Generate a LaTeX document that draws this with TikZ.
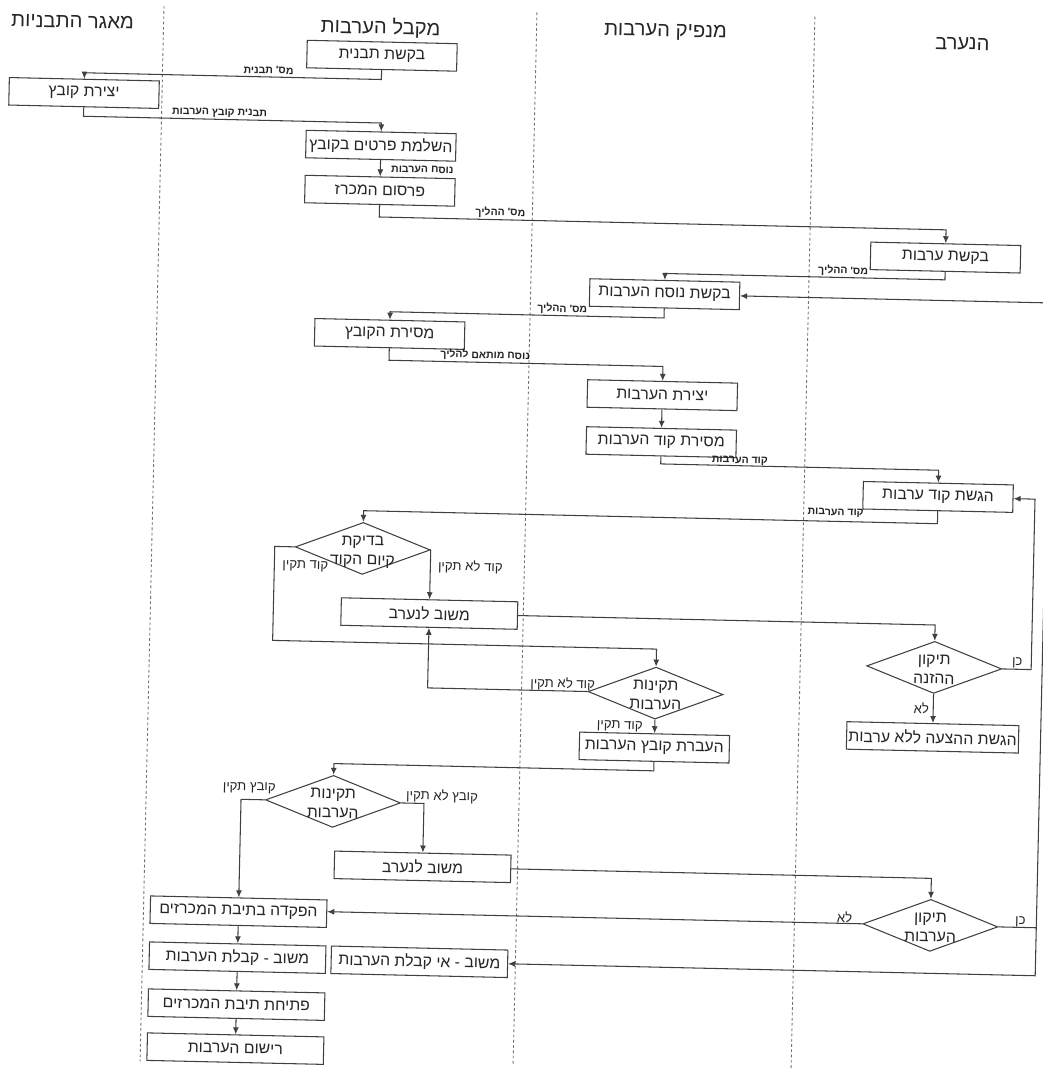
\documentclass[tikz,border=0pt]{standalone}
\usepackage{fontspec}
\newfontfamily\hebfont[Script=Hebrew]{Liberation Sans}
\usetikzlibrary{shapes.geometric,arrows.meta}
\TeXXeTstate=1
\newcommand\rtl[1]{{\beginR #1\endR}}
\newcommand\dtxt[2]{\makebox[0pt]{\raisebox{-.5\height}[0pt][0pt]{\begin{tabular}[b]{@{}c@{}}#1\\#2\end{tabular}}}}
\begin{document}
\begin{tikzpicture}[x=0.02cm,y=-0.02cm,
  box/.style={draw=black!75, line width=0.6pt, minimum width=3cm, minimum height=0.55cm,
              inner sep=1pt, text=black!85, font=\hebfont\fontsize{9}{11}\selectfont},
  wbox/.style={box, minimum width=3.53cm},
  dec/.style={diamond, draw=black!75, line width=0.6pt, minimum width=2.7cm, minimum height=1.04cm,
              inner sep=0pt, text=black!85, font=\hebfont\fontsize{9}{11}\selectfont},
  hdr/.style={text=black!85, font=\hebfont\fontsize{11.5}{13}\selectfont},
  lbl/.style={inner sep=0pt, text=black!85, font=\hebfont\bfseries\fontsize{6}{7}\selectfont},
  cond/.style={inner sep=0pt, text=black!85, font=\hebfont\fontsize{7.5}{9}\selectfont},
  flow/.style={draw=black!75, line width=0.6pt, -{Latex[length=4pt,width=3.4pt]}},
  wire/.style={draw=black!75, line width=0.6pt},
  lane/.style={black!55, line width=0.5pt, dash pattern=on 1.6pt off 1.4pt}]

\fill[white] (0,0) rectangle (1042,1078);
\useasboundingbox (0,0) rectangle (1042,1078);

\begin{scope}[rotate around={-1.3:(521,539)}, transform shape]

\node[hdr] (hdrA) at (61,32) {\rtl{מאגר התבניות}};
\node[hdr] (hdrB) at (369,31) {\rtl{מקבל הערבות}};
\node[hdr] (hdrC) at (654,29) {\rtl{מנפיק הערבות}};
\node[hdr] (hdrD) at (951,34) {\rtl{הנערב}};

\draw[lane] (152,14) -- (152,1070);
\draw[lane] (525,12) -- (525,1066);
\draw[lane] (803,10) -- (803,1062);

\node[box] (tavnit) at (371,59) {\rtl{בקשת תבנית}};
\node[box] (kovetz) at (74,103) {\rtl{יצירת קובץ}};
\node[box] (hashlama) at (372,149) {\rtl{השלמת פרטים בקובץ}};
\node[box] (pirsum) at (372,194) {\rtl{פרסום המכרז}};
\node[box] (bakasha) at (939,248) {\rtl{בקשת ערבות}};
\node[box] (nusach) at (659,291) {\rtl{בקשת נוסח הערבות}};
\node[box] (mesira) at (385,337) {\rtl{מסירת הקובץ}};
\node[box] (yetzira) at (659,392) {\rtl{יצירת הערבות}};
\node[box] (kod) at (659,439) {\rtl{מסירת קוד הערבות}};
\node[box] (hagasha) at (937,487.5) {\rtl{הגשת קוד ערבות}};

\node[dec] (bdika) at (363,552) {\dtxt{\beginR בדיקת\endR}{\beginR קיום הקוד\endR}};
\node[wbox] (mashovA) at (431,615.6) {\rtl{משוב לנערב}};
\node[dec] (tikunA) at (937,658) {\dtxt{\beginR תיקון\endR}{\beginR ההזנה\endR}};
\node[dec] (takinutA) at (659,690) {\dtxt{\beginR תקינות\endR}{\beginR הערבות\endR}};
\node[box, minimum width=3.44cm] (lelo) at (937,728) {\rtl{הגשת ההצעה ללא ערבות}};
\node[box] (haavara) at (659,744.5) {\rtl{העברת קובץ הערבות}};

\node[dec] (takinutB) at (339,805.6) {\dtxt{\beginR תקינות\endR}{\beginR הערבות\endR}};
\node[wbox] (mashovB) at (430,869) {\rtl{משוב לנערב}};
\node[dec] (tikunB) at (939,916) {\dtxt{\beginR תיקון\endR}{\beginR הערבות\endR}};
\node[wbox] (hafkada) at (247,918) {\rtl{הפקדה בתיבת המכרזים}};
\node[wbox] (kabala) at (247,964) {\rtl{משוב - קבלת הערבות}};
\node[wbox] (ikabala) at (429,964) {\rtl{משוב - אי קבלת הערבות}};
\node[wbox] (ptiha) at (247,1011) {\rtl{פתיחת תיבת המכרזים}};
\node[wbox] (rishum) at (247,1055) {\rtl{רישום הערבות}};

\coordinate (jn) at (1045,916);

\draw[flow] (tavnit.south) -- ++(0,9.5) -| (kovetz.north);
\draw[flow] (kovetz.south) -- ++(0,9) -| (hashlama.north);
\draw[flow] (hashlama.south) -- (pirsum.north);
\draw[flow] (pirsum.south) -- ++(0,12) -| (bakasha.north);
\draw[flow] (bakasha.south) -- ++(0,8) -| (nusach.north);
\draw[flow] (jn) |- (nusach.east);
\draw[flow] (nusach.south) -- ++(0,9.5) -| (mesira.north);
\draw[flow] (mesira.south) -- ++(0,12) -| (yetzira.north);
\draw[flow] (yetzira.south) -- (kod.north);
\draw[flow] (kod.south) -- ++(0,7.5) -| (hagasha.north);
\draw[flow] (hagasha.south) -- ++(0,12.5) -| (bdika.north);

\draw[flow] (bdika.east) -| (mashovA.north);
\draw[flow] (bdika.west) -- ++(-20,0) -- ++(0,94) -| (takinutA.north);
\draw[flow] (takinutA.west) -| (mashovA.south);
\draw[flow] (takinutA.south) -- (haavara.north);
\draw[flow] (mashovA.east) -| (tikunA.north);
\draw[flow] (tikunA.east) -- ++(29,0) |- (hagasha.east);
\draw[flow] (tikunA.south) -- (lelo.north);

\draw[flow] (haavara.south) -- ++(0,9) -| (takinutB.north);
\draw[flow] (takinutB.east) -| (mashovB.north);
\draw[flow] (takinutB.west) -| (hafkada.north);
\draw[flow] (mashovB.east) -| (tikunB.north);
\draw[flow] (tikunB.west) -- (tikunB.west -| hafkada.east);
\draw[wire] (tikunB.east) -- (jn);
\draw[flow] (jn) |- (ikabala.east);
\draw[flow] (hafkada.south) -- (kabala.north);
\draw[flow] (kabala.south) -- (ptiha.north);
\draw[flow] (ptiha.south) -- (rishum.north);

\node[lbl] (l1) at (258,76) {\rtl{מס' תבנית}};
\node[lbl] (l2) at (210,120) {\rtl{תבנית קובץ הערבות}};
\node[lbl] (l3) at (414,172) {\rtl{נוסח הערבות}};
\node[lbl] (l4) at (493,213) {\rtl{מס' ההליך}};
\node[lbl] (l5) at (837,263.5) {\rtl{מס' ההליך}};
\node[lbl] (l6) at (557,308) {\rtl{מס' ההליך}};
\node[lbl] (l7) at (481,356) {\rtl{נוסח מותאם להליך}};
\node[lbl] (l8) at (738,456) {\rtl{קוד הערבות}};
\node[lbl] (l9) at (835,506) {\rtl{קוד הערבות}};

\node[cond] (q1) at (471,568) {\rtl{קוד לא תקין}};
\node[cond] (q2) at (306,571) {\rtl{קוד תקין}};
\node[cond] (q3) at (566,683) {\rtl{קוד לא תקין}};
\node[cond] (q4) at (624,724) {\rtl{קוד תקין}};
\node[cond] (q5) at (448,798) {\rtl{קובץ לא תקין}};
\node[cond] (q6) at (255,794) {\rtl{קובץ תקין}};
\node[cond] (q7) at (853,910) {\rtl{לא}};
\node[cond] (q8) at (1029,910) {\rtl{כן}};
\node[cond] (q9) at (1020,652) {\rtl{כן}};
\node[cond] (q10) at (925,699) {\rtl{לא}};

\end{scope}
\end{tikzpicture}
\end{document}
